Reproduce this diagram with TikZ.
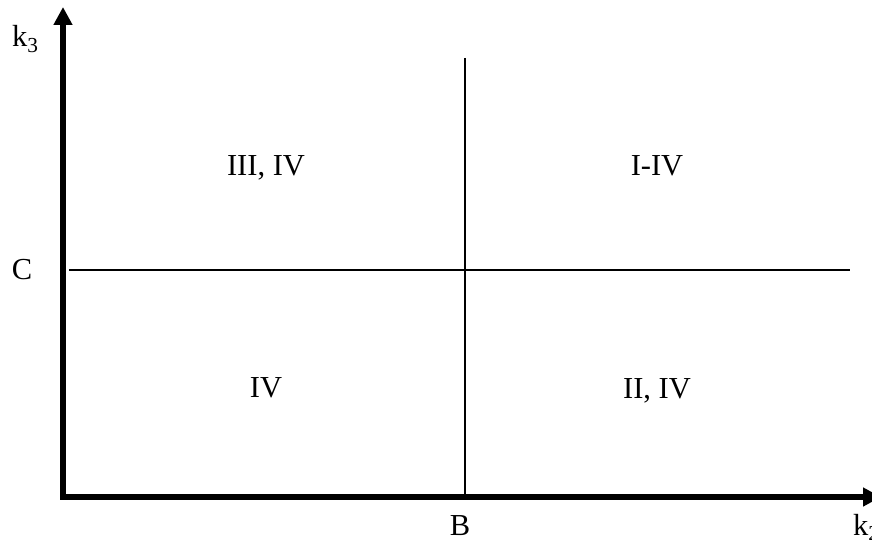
\documentclass[tikz,border=0pt]{standalone}
\usepackage{fontspec}
\setmainfont{Liberation Serif}
\usetikzlibrary{arrows.meta}
\begin{document}
\begin{tikzpicture}[x=1pt,y=-1pt,
  axis/.style={line width=5.5pt,-{Triangle[length=18pt,width=18pt]}},
  divider/.style={line width=2.4pt},
  lbl/.style={font=\fontsize{30.5}{34}\selectfont,inner sep=0pt,anchor=base}]
\useasboundingbox (0,0) rectangle (872,543);
\coordinate (O) at (63,497);
\coordinate (ytop) at (63,7);
\coordinate (xend) at (881,497);
\draw[axis] ([yshift=-2.75pt]O) -- (ytop);
\draw[axis] ([xshift=-2.75pt]O) -- (xend);
\coordinate (vtop) at (464.7,58);
\coordinate (vbot) at (464.7,497);
\coordinate (hl) at (69,270);
\coordinate (hr) at (850,270);
\draw[divider] (vtop) -- (vbot);
\draw[divider] (hl) -- (hr);
\node[lbl,anchor=base west] (k3) at (12,47) {k\textsubscript{3}};
\node[lbl,anchor=base west] (k2) at (853,535) {k\textsubscript{2}};
\node[lbl] (C) at (22,279) {C};
\node[lbl] (B) at (460,535) {B};
\node[lbl] (q3) at (266,175) {III, IV};
\node[lbl] (q1) at (657,175) {I-IV};
\node[lbl] (q4) at (266,397) {IV};
\node[lbl] (q2) at (657,398) {II, IV};
\end{tikzpicture}
\end{document}
